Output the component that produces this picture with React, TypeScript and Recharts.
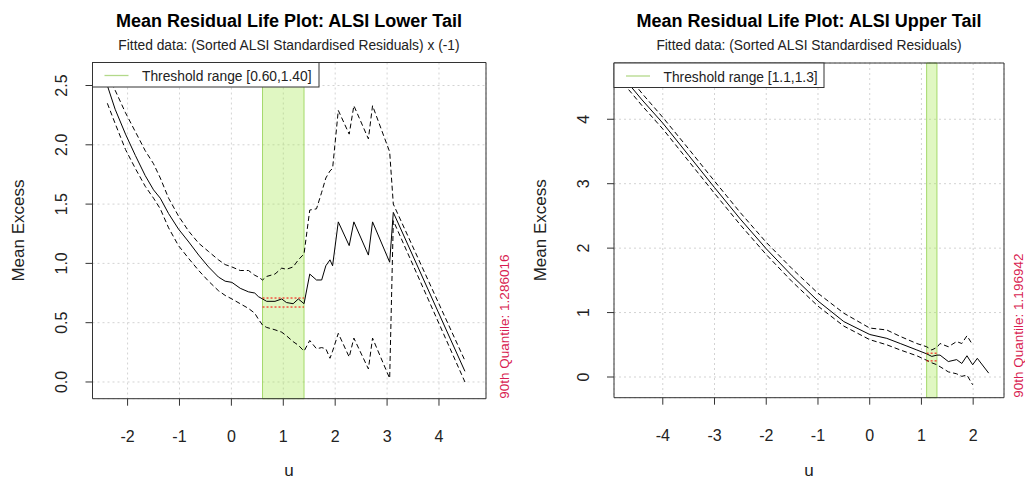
import React from 'react';
import { LineChart, Line, XAxis, YAxis, CartesianGrid, ReferenceArea, ReferenceLine } from 'recharts';

const FONT = "'Liberation Sans', Arial, Helvetica, sans-serif";

// lower tail: mean excess of the negated residuals, with its dashed confidence band
const lowU = [-2.39, -2.24, -2.04, -1.85, -1.66, -1.5, -1.37, -1.21, -1.02, -0.82, -0.63, -0.44, -0.25, -0.12, 0.01, 0.17, 0.33, 0.45, 0.52, 0.6, 0.68, 0.84, 0.97, 1.06, 1.19, 1.29, 1.4, 1.51, 1.64, 1.74, 1.82, 1.9, 1.95, 2.06, 2.27, 2.36, 2.64, 2.72, 3.05, 3.12, 4.5];
const lowMe = [2.5, 2.3, 2.09, 1.91, 1.74, 1.62, 1.55, 1.42, 1.29, 1.18, 1.07, 0.97, 0.885, 0.85, 0.84, 0.79, 0.76, 0.75, 0.72, 0.7, 0.68, 0.68, 0.7, 0.67, 0.66, 0.7, 0.66, 0.91, 0.86, 0.86, 0.98, 1.03, 0.98, 1.35, 1.15, 1.35, 1.07, 1.35, 1.01, 1.43, 0.09];
const lowHi = [2.58, 2.46, 2.27, 2.11, 1.95, 1.84, 1.72, 1.55, 1.4, 1.27, 1.17, 1.1, 1.03, 0.99, 0.97, 0.94, 0.94, 0.9, 0.885, 0.86, 0.89, 0.91, 0.96, 0.95, 0.97, 1.03, 1.08, 1.45, 1.46, 1.6, 1.72, 1.78, 1.8, 2.29, 2.09, 2.33, 2.05, 2.33, 1.94, 1.5, 0.18];
const lowLo = [2.35, 2.18, 1.96, 1.8, 1.65, 1.55, 1.46, 1.3, 1.15, 1.04, 0.94, 0.85, 0.77, 0.73, 0.7, 0.66, 0.62, 0.58, 0.53, 0.48, 0.46, 0.44, 0.42, 0.39, 0.34, 0.31, 0.26, 0.35, 0.28, 0.29, 0.28, 0.2, 0.26, 0.41, 0.21, 0.37, 0.11, 0.37, 0.03, 1.36, 0.0];
const lowTicksX = [-2, -1, 0, 1, 2, 3, 4];
const lowTicksY = [0, 0.5, 1, 1.5, 2, 2.5];
const lowBand = [0.6, 1.4];
const lowBandLines = [0.708, 0.632];

// upper tail
const upU = [-4.66, -4.4, -4.0, -3.5, -3.0, -2.5, -2.0, -1.5, -1.0, -0.5, 0.0, 0.33, 0.59, 0.91, 1.1, 1.2, 1.3, 1.36, 1.52, 1.68, 1.78, 1.88, 1.99, 2.08, 2.3];
const upMe = [4.55, 4.3, 3.94, 3.44, 2.94, 2.45, 1.99, 1.57, 1.18, 0.86, 0.66, 0.6, 0.52, 0.42, 0.36, 0.32, 0.34, 0.34, 0.24, 0.27, 0.21, 0.33, 0.19, 0.29, 0.06];
const upHi = [4.66, 4.4, 4.03, 3.54, 3.04, 2.55, 2.09, 1.68, 1.3, 0.99, 0.76, 0.73, 0.63, 0.52, 0.47, 0.42, 0.46, 0.52, 0.47, 0.55, 0.52, 0.64, 0.5, null, null];
const upLo = [4.46, 4.21, 3.85, 3.35, 2.85, 2.36, 1.9, 1.48, 1.1, 0.79, 0.58, 0.5, 0.42, 0.33, 0.26, 0.22, 0.19, 0.16, 0.08, 0.05, 0.01, 0.03, -0.12, null, null];
const upTicksX = [-4, -3, -2, -1, 0, 1, 2];
const upTicksY = [0, 1, 2, 3, 4];
const upBand = [1.1, 1.3];
const upBandLines = [0.37, 0.25];

type PanelProps = {
  left: number; width: number;
  box: { l: number; r: number; t: number; b: number };
  u: number[]; me: number[]; hi: (number | null)[]; lo: (number | null)[];
  xDomain: [number, number]; yDomain: [number, number];
  xTicks: number[]; yTicks: number[]; digits: number;
  band: number[]; bandLines: number[];
};

function MrlPanel(p: PanelProps) {
  const data = p.u.map((u, i) => ({ u, me: p.me[i], hi: p.hi[i], lo: p.lo[i] }));
  const H = 479;
  const yAxisW = 60;
  const xAxisH = 40;
  const l = p.box.l - p.left;
  const r = p.box.r - p.left;
  const margin = { top: p.box.t, left: l - yAxisW, right: p.width - r, bottom: H - p.box.b - xAxisH };

  const xTick = (t: any) => (
    <text x={t.x} y={p.box.b + 43} textAnchor="middle" fontSize={16} fill="#222" fontFamily={FONT}>
      {String(t.payload.value)}
    </text>
  );
  const yTick = (t: any) => {
    const bx = l - 25;
    return (
      <text x={bx} y={t.y} transform={`rotate(-90, ${bx}, ${t.y})`} textAnchor="middle" fontSize={16} fill="#222" fontFamily={FONT}>
        {Number(t.payload.value).toFixed(p.digits)}
      </text>
    );
  };

  return (
    <div style={{ position: 'absolute', left: p.left, top: 0 }}>
      <LineChart width={p.width} height={H} data={data} margin={margin}>
        <CartesianGrid stroke="#d3d3d3" strokeDasharray="2 3" />
        <XAxis type="number" dataKey="u" domain={p.xDomain} ticks={p.xTicks} allowDataOverflow interval={0}
          axisLine={false} tickLine={{ stroke: '#333' }} tickSize={7} height={xAxisH} tick={xTick} />
        <YAxis type="number" domain={p.yDomain} ticks={p.yTicks} allowDataOverflow interval={0}
          axisLine={false} tickLine={{ stroke: '#333' }} tickSize={7} width={yAxisW} tick={yTick} />
        <Line type="linear" dataKey="hi" stroke="#000" strokeWidth={1} strokeDasharray="5 3" dot={false} isAnimationActive={false} />
        <Line type="linear" dataKey="lo" stroke="#000" strokeWidth={1} strokeDasharray="5 3" dot={false} isAnimationActive={false} />
        <Line type="linear" dataKey="me" stroke="#000" strokeWidth={1} dot={false} isAnimationActive={false} />
        <ReferenceArea x1={p.band[0]} x2={p.band[1]} y1={p.yDomain[0]} y2={p.yDomain[1]}
          fill="rgb(165,232,80)" fillOpacity={0.35} stroke="rgba(140,205,70,0.75)" strokeWidth={1} ifOverflow="visible" />
        {p.bandLines.map((v, i) => (
          <ReferenceLine key={i} segment={[{ x: p.band[0], y: v }, { x: p.band[1], y: v }]}
            stroke="#ff0000" strokeDasharray="2 2" strokeWidth={1} />
        ))}
        <ReferenceArea x1={p.xDomain[0]} x2={p.xDomain[1]} y1={p.yDomain[0]} y2={p.yDomain[1]}
          fill="none" stroke="#333" strokeWidth={1} ifOverflow="visible" />
      </LineChart>
    </div>
  );
}

function Titles(props: { cx: number; title: string; sub: string; legend: string; box: { l: number; t: number }; legendW: number; yMid: number; yLabX: number; quant: string; quantX: number; boxB: number }) {
  const { cx, box } = props;
  return (
    <g fontFamily={FONT}>
      <text x={cx} y={27} textAnchor="middle" fontSize={18} fontWeight="bold" fill="#000">{props.title}</text>
      <text x={cx} y={50} textAnchor="middle" fontSize={13.8} fill="#222">{props.sub}</text>
      <rect x={box.l} y={box.t} width={props.legendW} height={24.5} fill="#fff" stroke="#333" strokeWidth={1} />
      <line x1={box.l + 12} x2={box.l + 36} y1={box.t + 13} y2={box.t + 13} stroke="#b3d98a" strokeWidth={1.3} />
      <text x={box.l + 49.5} y={box.t + 18.5} fontSize={13.8} fill="#222">{props.legend}</text>
      <text x={cx} y={476} textAnchor="middle" fontSize={17} fill="#222">u</text>
      <text x={props.yLabX} y={props.yMid} transform={`rotate(-90, ${props.yLabX}, ${props.yMid})`} textAnchor="middle" fontSize={17} fill="#222">Mean Excess</text>
      <text x={props.quantX} y={props.boxB} transform={`rotate(-90, ${props.quantX}, ${props.boxB})`} textAnchor="start" fontSize={13.5} fill="#d81b50">{`90th Quantile: ${props.quant}`}</text>
    </g>
  );
}

export default function App() {
  const lowBox = { l: 92.5, r: 486, t: 62.5, b: 398.7 };
  const upBox = { l: 614, r: 1004, t: 63, b: 397.7 };
  return (
    <div style={{ position: 'fixed', left: 0, top: 0, width: 1025, height: 479, background: '#fff', overflow: 'hidden' }}>
      <MrlPanel left={0} width={512} box={lowBox} u={lowU} me={lowMe} hi={lowHi} lo={lowLo}
        xDomain={[-2.676, 4.906]} yDomain={[-0.141, 2.694]} xTicks={lowTicksX} yTicks={lowTicksY} digits={1}
        band={lowBand} bandLines={lowBandLines} />
      <MrlPanel left={512} width={513} box={upBox} u={upU} me={upMe} hi={upHi} lo={upLo}
        xDomain={[-4.943, 2.596]} yDomain={[-0.321, 4.873]} xTicks={upTicksX} yTicks={upTicksY} digits={0}
        band={upBand} bandLines={upBandLines} />
      <svg width={1025} height={479} style={{ position: 'absolute', left: 0, top: 0, pointerEvents: 'none' }}>
        <Titles cx={289} title="Mean Residual Life Plot: ALSI Lower Tail" sub="Fitted data: (Sorted ALSI Standardised Residuals) x (-1)"
          legend="Threshold range [0.60,1.40]" box={{ l: lowBox.l, t: lowBox.t }} legendW={226.5} yMid={230.6} yLabX={24}
          quant="1.286016" quantX={509} boxB={lowBox.b} />
        <Titles cx={809} title="Mean Residual Life Plot: ALSI Upper Tail" sub="Fitted data: (Sorted ALSI Standardised Residuals)"
          legend="Threshold range [1.1,1.3]" box={{ l: upBox.l, t: upBox.t }} legendW={210} yMid={230.3} yLabX={546}
          quant="1.196942" quantX={1023} boxB={upBox.b} />
      </svg>
    </div>
  );
}
